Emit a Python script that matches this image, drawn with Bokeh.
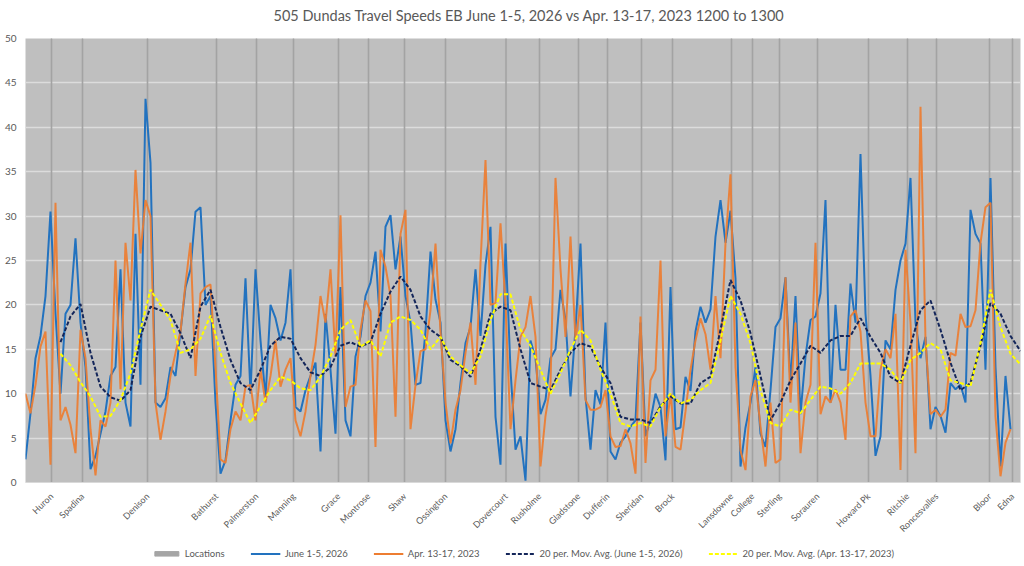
import numpy as np
from math import pi
from bokeh.plotting import figure
from bokeh.layouts import column
from bokeh.models import Range1d, FixedTicker, Legend, LegendItem, Label
from bokeh.embed import file_html
from bokeh.resources import INLINE

TITLE = "505 Dundas Travel Speeds EB June 1-5, 2026 vs Apr. 13-17, 2023 1200 to 1300"

# Stop locations along the route (category position) and their bar value
location_names = ["Huron", "Spadina", "Denison", "Bathurst", "Palmerston", "Manning", "Grace",
                  "Montrose", "Shaw", "Ossington", "Dovercourt", "Rusholme", "Gladstone",
                  "Dufferin", "Sheridan", "Brock", "Lansdowne", "College", "Sterling",
                  "Sorauren", "Howard Pk", "Ritchie", "Roncesvalles", "Bloor", "Edna"]
location_pos = [5.2, 11.4, 24.4, 38.2, 46.2, 53.6, 62.6, 68.6, 75.8, 84.0, 96.1, 102.8, 110.6,
                116.4, 123.2, 129.4, 141.2, 145.4, 150.8, 158.4, 168.6, 176.4, 182.2, 192.8, 197.4]
location_bar = [50, 50, 50, 50, 50, 50, 50, 50, 50, 50, 50, 50, 50,
                50, 50, 50, 50, 50, 50, 50, 50, 50, 50, 50, 50]

# Travel speeds (km/h) along the route
june_2026 = [2.6, 7.8, 14, 16.5, 21, 30.5, 19, 10, 19, 20, 27.5, 18, 13, 1.5, 3, 5.5, 8, 12, 13, 24,
             9, 6.3, 28, 11, 43.2, 36, 9, 8.5, 9.5, 13, 12, 17, 22, 24, 30.5, 31, 20, 21, 9, 1,
             2.5, 7, 11, 12, 23, 10, 24, 16, 9.5, 20, 18.5, 16, 18, 24, 8.5, 8, 10.4, 12, 13.5, 3.5,
             19, 12.7, 5.5, 22, 7, 5.2, 14.2, 16.4, 21, 22.5, 26, 17, 28.8, 30.1, 24, 27.7, 21, 18, 11, 11.2,
             17, 26, 20.6, 18, 7, 3.5, 6, 11.2, 15.7, 17.5, 24, 16.5, 24.5, 28.8, 7.4, 2, 26.9, 12.7, 3.7, 5.2,
             0.2, 16, 14, 7.7, 9.3, 14, 15, 21.7, 18.3, 9.7, 17.3, 26.9, 9.7, 3.7, 10.4, 8.8, 18, 3.5, 2.6, 4.5,
             5.2, 6.3, 7, 18, 5.2, 7, 10, 8.5, 2.5, 22, 6, 6.2, 11.9, 10.3, 17, 19.8, 18, 19.5, 27.7, 31.8,
             27, 30.6, 23, 1.8, 6.2, 9, 13, 5.5, 4, 10.4, 17.5, 18.5, 23.1, 11, 21, 7.7, 14.2, 18.3, 18.7, 21.3,
             31.8, 9, 20, 12.7, 12.7, 22.4, 18, 37, 19, 12, 3, 5.2, 16, 15, 21.7, 25, 26.9, 34.3, 18, 14,
             16.4, 6, 8.5, 7.5, 5.6, 11.2, 10.5, 11, 9, 30.7, 28, 26.9, 12.7, 34.3, 13, 1.8, 12, 6, None, None]
apr_2023 = [10, 7.8, 11, 15.3, 17, 2, 31.5, 7, 8.5, 6.5, 3.3, 17.2, 14, 6, 0.8, 7, 6.3, 9, 25, 10.5,
            27, 20.5, 35.2, 25.8, 31.8, 30, 9, 4.8, 8, 12, 14.6, 17, 22.4, 27, 12, 21.3, 22, 22.3, 13, 2.6,
            2.2, 6, 8, 7, 10.8, 11, 7, 12.7, 9, 12, 16, 10.8, 12.7, 14, 7, 5.2, 8, 12, 15.5, 21,
            18, 24, 14.2, 30.1, 8.5, 10.8, 11, 17.2, 20.5, 19.3, 4, 26.2, 24.3, 21, 7.4, 28, 30.7, 6, 11, 14.8,
            15, 19.4, 26.9, 17, 9, 4.4, 8.2, 10.4, 14.6, 18, 11, 24.7, 36.3, 20, 20.2, 29.2, 20, 6, 11.5, 16.4,
            17.5, 21, 16.4, 1.8, 7.5, 11, 34.3, 24, 16.4, 27.7, 16, 20, 9.3, 8.2, 8.2, 8.5, 10.4, 5.2, 4, 4.1,
            6, 4.4, 1, 18.7, 2.2, 11.5, 12.7, 25, 5.2, 10, 4, 3.7, 8, 12.7, 16, 18.5, 16.7, 12.7, 21, 14,
            27, 34.7, 13, 3.6, 1.4, 9.7, 11.5, 6.3, 1.8, 9, 2.2, 2.6, 23.1, 9, 18, 3.3, 9, 11, 27, 7.7,
            9.7, 9, 10.5, 9, 4.8, 18.7, 19.4, 17, 9, 5.2, 5.2, 12.7, 15, 14, 19, 1.4, 26.2, 18, 3.3, 42.3,
            16, 7.7, 8.2, 7.4, 8.2, 14.6, 14.3, 19, 17.5, 17.6, 19.4, 27, 31, 31.5, 7.4, 0.7, 4.5, 6, None, None]

# 20-period moving averages, read at every second position from 7
ma_pos = list(range(7, 200, 2))
ma_june_2026 = [15.8, 18.7, 20.1, 14.6, 10.8, 9.6, 9.2, 10.4, 16.4, 19.8,
                19.4, 19.0, 16.8, 14.0, 19.8, 21.7, 17.5, 13.8, 11.2, 10.4, 12.7, 15.4, 16.4,
                16.2, 14.0, 12.4, 12.0, 13.0, 15.4, 15.8, 15.3, 15.8, 19.0, 21.5, 23.2, 21.7, 18.7,
                17.2, 16.4, 13.8, 13.1, 11.9, 15.0, 19.0, 19.8, 19.4, 15.0, 11.2, 10.8, 10.4, 12.7, 14.6,
                15.7, 15.3, 13.0, 11.2, 7.4, 7.1, 7.1, 6.7, 8.6, 9.7, 8.9, 8.9, 11.2, 11.9,
                17.2, 22.8, 20.5, 16.8, 12.0, 7.0, 9.0, 11.5, 13.4, 15.4, 14.6, 16.0, 16.5, 16.5, 18.5,
                16.4, 14.6, 11.9, 11.2, 15.4, 19.4, 20.5, 17.2, 13.5, 10.4, 11.2, 15.4, 20.2, 19.0, 16.5, 14.8]
ma_apr_2023 = [14.5, 13.2, 11.3, 9.7, 7.4, 7.5, 9.3, 12.3, 17.2, 21.7,
               20.0, 18.3, 14.6, 15.0, 16.2, 18.8, 14.6, 11.2, 8.9, 6.7, 8.6, 10.4, 11.9,
               11.5, 10.6, 10.4, 11.9, 14.2, 17.2, 18.3, 15.3, 16.0, 14.2, 18.0, 18.7, 18.3, 17.2,
               15.0, 16.4, 14.2, 13.2, 12.3, 14.2, 18.3, 21.2, 21.2, 17.2, 15.4, 12.7, 10.0, 12.3, 15.0,
               17.2, 16.0, 12.7, 10.0, 6.7, 6.3, 6.7, 6.3, 8.5, 10.0, 8.9, 9.3, 10.4, 11.2,
               16.0, 21.0, 19.0, 15.7, 10.4, 6.7, 6.3, 8.2, 7.8, 9.3, 10.8, 10.6, 10.0, 11.2, 13.4,
               13.4, 13.4, 12.7, 11.2, 13.8, 14.6, 15.7, 15.0, 11.5, 11.2, 10.8, 15.7, 21.7, 17.5, 14.5, 13.3]

y_ticks = [0, 5, 10, 15, 20, 25, 30, 35, 40, 45, 50]

series_labels = ["Locations", "June 1-5, 2026", "Apr. 13-17, 2023",
                 "20 per. Mov. Avg. (June 1-5, 2026)", "20 per. Mov. Avg. (Apr. 13-17, 2023)"]

idx = np.arange(len(june_2026))
june = np.array(june_2026, dtype=float)
apr = np.array(apr_2023, dtype=float)

FONT = "Lato"
TXT = "#595959"
C_LOC, C_JUNE, C_APR, C_MAJ, C_MAA = "#A5A5A5", "#2272BF", "#ED7D31", "#14265A", "#FFFF00"


def strip(height):
    f = figure(width=1024, height=height, output_backend="svg", toolbar_location=None,
               x_range=Range1d(0, 1), y_range=Range1d(0, 1),
               min_border_left=0, min_border_right=0, min_border_top=0, min_border_bottom=0,
               x_axis_location=None, y_axis_location=None)
    f.outline_line_color = None
    f.grid.visible = False
    f.background_fill_color = "white"
    f.border_fill_color = "white"
    return f


# title strip
top = strip(30)
top.add_layout(Label(x=0.5065, y=0.5, text=TITLE, text_align="center", text_baseline="middle",
                     text_font=FONT, text_font_size="14.5px", text_color=TXT))

# main chart
p = figure(width=1024, height=510, output_backend="svg", toolbar_location=None, title=None,
           x_range=Range1d(0, len(june_2026) - 1), y_range=Range1d(0, 50),
           min_border_left=25, min_border_right=4, min_border_top=8, min_border_bottom=58)
p.background_fill_color = "#BFBFBF"
p.border_fill_color = "white"
p.outline_line_color = None

p.vbar(x=location_pos, top=location_bar, width=0.22, fill_color=C_LOC,
       line_color="#A0A0A0", line_width=0.5)
p.line(idx, june, line_color=C_JUNE, line_width=2)
p.line(idx, apr, line_color=C_APR, line_width=2, line_alpha=0.92)
p.line(ma_pos, ma_june_2026, line_color=C_MAJ, line_width=2, line_dash="4 2")
p.line(ma_pos, ma_apr_2023, line_color=C_MAA, line_width=2, line_dash="4 2")

p.yaxis.ticker = FixedTicker(ticks=y_ticks)
p.yaxis.major_tick_line_color = None
p.yaxis.major_tick_out = 0
p.yaxis.minor_tick_line_color = None
p.yaxis.axis_line_color = None
p.yaxis.major_label_text_font = FONT
p.yaxis.major_label_text_font_size = "10px"
p.yaxis.major_label_text_color = TXT
p.yaxis.major_label_standoff = 9

p.xaxis.ticker = FixedTicker(ticks=location_pos)
p.xaxis.major_label_overrides = {pos: name for pos, name in zip(location_pos, location_names)}
p.xaxis.major_label_orientation = pi / 4
p.xaxis.major_tick_line_color = None
p.xaxis.major_tick_out = 0
p.xaxis.minor_tick_line_color = None
p.xaxis.axis_line_color = "#D9D9D9"
p.xaxis.major_label_text_font = FONT
p.xaxis.major_label_text_font_size = "9px"
p.xaxis.major_label_text_color = TXT
p.xaxis.major_label_standoff = 12

p.xgrid.grid_line_color = None
p.ygrid.ticker = FixedTicker(ticks=y_ticks)
p.ygrid.grid_line_color = "#DCDCDC"
p.ygrid.grid_line_width = 1.5

# legend strip underneath the chart (proxy renderers hold no visible data)
lg = strip(26)
nan = [float("nan")]
k0 = lg.vbar(x=nan, top=nan, width=0.1, fill_color=C_LOC, line_color=C_LOC)
k1 = lg.line(x=nan, y=nan, line_color=C_JUNE, line_width=2)
k2 = lg.line(x=nan, y=nan, line_color=C_APR, line_width=2)
k3 = lg.line(x=nan, y=nan, line_color=C_MAJ, line_width=2, line_dash="4 2")
k4 = lg.line(x=nan, y=nan, line_color=C_MAA, line_width=2, line_dash="4 2")
legend = Legend(items=[LegendItem(label=series_labels[0], renderers=[k0]),
                       LegendItem(label=series_labels[1], renderers=[k1]),
                       LegendItem(label=series_labels[2], renderers=[k2]),
                       LegendItem(label=series_labels[3], renderers=[k3]),
                       LegendItem(label=series_labels[4], renderers=[k4])],
                orientation="horizontal", location="center",
                glyph_width=30, glyph_height=6, label_height=10, label_standoff=4,
                spacing=26, padding=2, margin=0,
                border_line_alpha=0, background_fill_alpha=0,
                label_text_font=FONT, label_text_font_size="9.5px", label_text_color=TXT)
lg.add_layout(legend, "center")

page = column(top, p, lg, spacing=0)
open("out.html", "w").write(file_html(page, INLINE))
